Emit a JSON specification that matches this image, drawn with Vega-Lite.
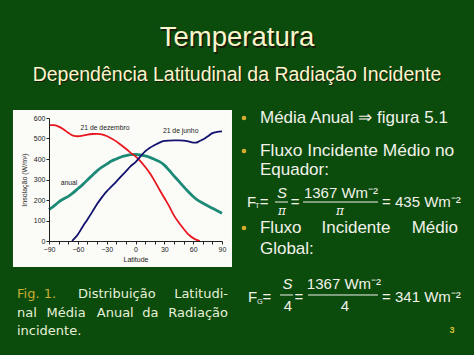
{
  "$schema": "https://vega.github.io/schema/vega-lite/v6.json",
  "width": 173,
  "height": 123,
  "autosize": "none",
  "padding": {"left": 49, "top": 118, "right": 252, "bottom": 114},
  "background": "#0b4b0c",
  "config": {
    "view": {"stroke": null},
    "axis": {
      "zindex": 2,
      "grid": false,
      "domainColor": "#222222",
      "tickColor": "#222222",
      "labelFont": "Liberation Sans",
      "labelFontSize": 7,
      "labelColor": "#222222",
      "titleFont": "Liberation Sans",
      "titleFontSize": 7,
      "titleFontWeight": "normal",
      "titleColor": "#222222"
    }
  },
  "datasets": {
    "insolation": [
      {"lat": -90, "serie": "21 de dezembro", "ins": 565},
      {"lat": -85, "serie": "21 de dezembro", "ins": 565},
      {"lat": -80, "serie": "21 de dezembro", "ins": 558},
      {"lat": -75, "serie": "21 de dezembro", "ins": 545},
      {"lat": -70, "serie": "21 de dezembro", "ins": 528},
      {"lat": -65, "serie": "21 de dezembro", "ins": 514},
      {"lat": -60, "serie": "21 de dezembro", "ins": 511},
      {"lat": -55, "serie": "21 de dezembro", "ins": 514},
      {"lat": -50, "serie": "21 de dezembro", "ins": 519},
      {"lat": -45, "serie": "21 de dezembro", "ins": 522},
      {"lat": -40, "serie": "21 de dezembro", "ins": 523},
      {"lat": -35, "serie": "21 de dezembro", "ins": 520},
      {"lat": -30, "serie": "21 de dezembro", "ins": 512},
      {"lat": -25, "serie": "21 de dezembro", "ins": 500},
      {"lat": -20, "serie": "21 de dezembro", "ins": 486},
      {"lat": -15, "serie": "21 de dezembro", "ins": 468},
      {"lat": -10, "serie": "21 de dezembro", "ins": 450},
      {"lat": -5, "serie": "21 de dezembro", "ins": 430},
      {"lat": 0, "serie": "21 de dezembro", "ins": 413},
      {"lat": 5, "serie": "21 de dezembro", "ins": 390},
      {"lat": 10, "serie": "21 de dezembro", "ins": 362},
      {"lat": 15, "serie": "21 de dezembro", "ins": 330},
      {"lat": 20, "serie": "21 de dezembro", "ins": 292},
      {"lat": 25, "serie": "21 de dezembro", "ins": 250},
      {"lat": 30, "serie": "21 de dezembro", "ins": 210},
      {"lat": 35, "serie": "21 de dezembro", "ins": 170},
      {"lat": 40, "serie": "21 de dezembro", "ins": 125},
      {"lat": 45, "serie": "21 de dezembro", "ins": 90},
      {"lat": 50, "serie": "21 de dezembro", "ins": 60},
      {"lat": 55, "serie": "21 de dezembro", "ins": 32},
      {"lat": 60, "serie": "21 de dezembro", "ins": 14},
      {"lat": 65, "serie": "21 de dezembro", "ins": 3},
      {"lat": 67, "serie": "21 de dezembro", "ins": 0},
      {"lat": -66, "serie": "21 de junho", "ins": 0},
      {"lat": -62, "serie": "21 de junho", "ins": 20},
      {"lat": -60, "serie": "21 de junho", "ins": 32},
      {"lat": -55, "serie": "21 de junho", "ins": 70},
      {"lat": -50, "serie": "21 de junho", "ins": 105},
      {"lat": -45, "serie": "21 de junho", "ins": 142},
      {"lat": -40, "serie": "21 de junho", "ins": 180},
      {"lat": -35, "serie": "21 de junho", "ins": 213},
      {"lat": -30, "serie": "21 de junho", "ins": 242},
      {"lat": -25, "serie": "21 de junho", "ins": 266},
      {"lat": -20, "serie": "21 de junho", "ins": 290},
      {"lat": -15, "serie": "21 de junho", "ins": 315},
      {"lat": -10, "serie": "21 de junho", "ins": 340},
      {"lat": -5, "serie": "21 de junho", "ins": 365},
      {"lat": 0, "serie": "21 de junho", "ins": 385},
      {"lat": 5, "serie": "21 de junho", "ins": 412},
      {"lat": 10, "serie": "21 de junho", "ins": 437},
      {"lat": 15, "serie": "21 de junho", "ins": 455},
      {"lat": 20, "serie": "21 de junho", "ins": 468},
      {"lat": 25, "serie": "21 de junho", "ins": 480},
      {"lat": 30, "serie": "21 de junho", "ins": 488},
      {"lat": 35, "serie": "21 de junho", "ins": 490},
      {"lat": 40, "serie": "21 de junho", "ins": 491},
      {"lat": 45, "serie": "21 de junho", "ins": 491},
      {"lat": 50, "serie": "21 de junho", "ins": 490},
      {"lat": 55, "serie": "21 de junho", "ins": 486},
      {"lat": 60, "serie": "21 de junho", "ins": 480},
      {"lat": 63, "serie": "21 de junho", "ins": 480},
      {"lat": 66, "serie": "21 de junho", "ins": 486},
      {"lat": 70, "serie": "21 de junho", "ins": 495},
      {"lat": 75, "serie": "21 de junho", "ins": 510},
      {"lat": 80, "serie": "21 de junho", "ins": 526},
      {"lat": 85, "serie": "21 de junho", "ins": 532},
      {"lat": 90, "serie": "21 de junho", "ins": 535},
      {"lat": -90, "serie": "anual", "ins": 153},
      {"lat": -85, "serie": "anual", "ins": 170},
      {"lat": -80, "serie": "anual", "ins": 190},
      {"lat": -75, "serie": "anual", "ins": 205},
      {"lat": -70, "serie": "anual", "ins": 218},
      {"lat": -65, "serie": "anual", "ins": 235},
      {"lat": -60, "serie": "anual", "ins": 255},
      {"lat": -55, "serie": "anual", "ins": 275},
      {"lat": -50, "serie": "anual", "ins": 298},
      {"lat": -45, "serie": "anual", "ins": 320},
      {"lat": -40, "serie": "anual", "ins": 342},
      {"lat": -35, "serie": "anual", "ins": 360},
      {"lat": -30, "serie": "anual", "ins": 375},
      {"lat": -25, "serie": "anual", "ins": 390},
      {"lat": -20, "serie": "anual", "ins": 400},
      {"lat": -15, "serie": "anual", "ins": 410},
      {"lat": -10, "serie": "anual", "ins": 416},
      {"lat": -5, "serie": "anual", "ins": 421},
      {"lat": 0, "serie": "anual", "ins": 422},
      {"lat": 5, "serie": "anual", "ins": 420},
      {"lat": 10, "serie": "anual", "ins": 415},
      {"lat": 15, "serie": "anual", "ins": 408},
      {"lat": 20, "serie": "anual", "ins": 398},
      {"lat": 25, "serie": "anual", "ins": 387},
      {"lat": 30, "serie": "anual", "ins": 370},
      {"lat": 35, "serie": "anual", "ins": 345},
      {"lat": 40, "serie": "anual", "ins": 318},
      {"lat": 45, "serie": "anual", "ins": 292},
      {"lat": 50, "serie": "anual", "ins": 265},
      {"lat": 55, "serie": "anual", "ins": 240},
      {"lat": 60, "serie": "anual", "ins": 217},
      {"lat": 65, "serie": "anual", "ins": 198},
      {"lat": 70, "serie": "anual", "ins": 185},
      {"lat": 75, "serie": "anual", "ins": 172},
      {"lat": 80, "serie": "anual", "ins": 160},
      {"lat": 85, "serie": "anual", "ins": 148},
      {"lat": 90, "serie": "anual", "ins": 135}
    ]
  },
  "data": {"values": [{}]},
  "layer": [
    {
      "mark": {"type": "rect", "fill": "#fbfbf8"},
      "encoding": {
        "x": {"datum": -127.5, "type": "quantitative", "scale": {"domain": [-90, 90], "nice": false, "zero": false},
          "axis": {"title": "Latitude", "zindex": 2, "tickCount": 40, "values": [-90, -80, -70, -60, -50, -40, -30, -20, -10, 0, 10, 20, 30, 40, 50, 60, 70, 80, 90],
            "labelExpr": "datum.value % 30 == 0 ? datum.label : ''", "tickSize": 3, "labelPadding": 1, "titlePadding": 3, "labelFlush": false, "labelOverlap": false}},
        "x2": {"datum": 100.4},
        "y": {"datum": 639, "type": "quantitative", "scale": {"domain": [0, 600], "nice": false, "zero": false},
          "axis": {"title": "Insolação (W/m²)", "zindex": 2, "tickCount": 20, "values": [0, 100, 200, 300, 400, 500, 600], "tickSize": 3, "labelPadding": 1, "titlePadding": 6, "labelOverlap": false}},
        "y2": {"datum": -126.8}
      }
    },
    {
      "data": {"name": "insolation"},
      "transform": [{"filter": "datum.serie == 'anual'"}],
      "mark": {"type": "line", "strokeWidth": 2.8, "interpolate": "monotone"},
      "encoding": {
        "x": {"field": "lat", "type": "quantitative", "title": "Latitude"},
        "y": {"field": "ins", "type": "quantitative", "title": "Insolação (W/m²)"},
        "color": {"field": "serie", "type": "nominal", "scale": {"domain": ["21 de dezembro", "21 de junho", "anual"], "range": ["#e8171f", "#12126e", "#1d8a78"]}, "legend": null}
      }
    },
    {
      "data": {"name": "insolation"},
      "transform": [{"filter": "datum.serie != 'anual'"}],
      "mark": {"type": "line", "strokeWidth": 1.8, "interpolate": "monotone"},
      "encoding": {
        "x": {"field": "lat", "type": "quantitative", "title": "Latitude"},
        "y": {"field": "ins", "type": "quantitative", "title": "Insolação (W/m²)"},
        "color": {"field": "serie", "type": "nominal", "legend": null},
        "detail": {"field": "serie"}
      }
    },
    {"mark": {"type": "text", "text": "21 de dezembro", "font": "Liberation Sans", "fontSize": 6.8, "color": "#222222", "align": "center", "baseline": "middle"},
     "encoding": {"x": {"datum": -31.7}, "y": {"datum": 551.2}}},
    {"mark": {"type": "text", "text": "21 de junho", "font": "Liberation Sans", "fontSize": 6.8, "color": "#222222", "align": "center", "baseline": "middle"},
     "encoding": {"x": {"datum": 47.0}, "y": {"datum": 536.6}}},
    {"mark": {"type": "text", "text": "anual", "font": "Liberation Sans", "fontSize": 6.8, "color": "#222222", "align": "center", "baseline": "middle"},
     "encoding": {"x": {"datum": -69.2}, "y": {"datum": 282.9}}},

    {"mark": {"type": "text", "text": "Temperatura", "font": "Liberation Sans", "fontSize": 27.5, "color": "#1a1a0a", "align": "center", "baseline": "alphabetic", "dx": 1.5, "dy": 1.5},
     "encoding": {"x": {"datum": 105.6}, "y": {"datum": 951.2}}},
    {"mark": {"type": "text", "text": "Temperatura", "font": "Liberation Sans", "fontSize": 27.5, "color": "#fbf6cc", "align": "center", "baseline": "alphabetic"},
     "encoding": {"x": {"datum": 105.6}, "y": {"datum": 951.2}}},
    {"mark": {"type": "text", "text": "Dependência Latitudinal da Radiação Incidente", "font": "Liberation Sans", "fontSize": 19.5, "color": "#1a1a0a", "align": "center", "baseline": "alphabetic", "dx": 1, "dy": 1},
     "encoding": {"x": {"datum": 105.6}, "y": {"datum": 780.5}}},
    {"mark": {"type": "text", "text": "Dependência Latitudinal da Radiação Incidente", "font": "Liberation Sans", "fontSize": 19.5, "color": "#fbf6cc", "align": "center", "baseline": "alphabetic"},
     "encoding": {"x": {"datum": 105.6}, "y": {"datum": 780.5}}},

    {"mark": {"type": "point", "shape": "circle", "filled": true, "size": 22, "color": "#d6ac2e", "opacity": 1},
     "encoding": {"x": {"datum": 112.9}, "y": {"datum": 600}}},
    {"mark": {"type": "point", "shape": "circle", "filled": true, "size": 22, "color": "#d6ac2e", "opacity": 1},
     "encoding": {"x": {"datum": 112.9}, "y": {"datum": 439}}},
    {"mark": {"type": "point", "shape": "circle", "filled": true, "size": 22, "color": "#d6ac2e", "opacity": 1},
     "encoding": {"x": {"datum": 112.9}, "y": {"datum": 63.4}}},

    {"mark": {"type": "text", "text": "Média Anual ⇒ figura 5.1", "font": "Liberation Sans", "fontSize": 17, "color": "#f2f2ea", "align": "left", "baseline": "alphabetic"},
     "encoding": {"x": {"datum": 129.5}, "y": {"datum": 575.6}}},
    {"mark": {"type": "text", "text": "Fluxo Incidente Médio no", "font": "Liberation Sans", "fontSize": 17.4, "color": "#f2f2ea", "align": "left", "baseline": "alphabetic"},
     "encoding": {"x": {"datum": 129.5}, "y": {"datum": 414.6}}},
    {"mark": {"type": "text", "text": "Equador:", "font": "Liberation Sans", "fontSize": 17, "color": "#f2f2ea", "align": "left", "baseline": "alphabetic"},
     "encoding": {"x": {"datum": 129.5}, "y": {"datum": 322}}},
    {"mark": {"type": "text", "text": "Fluxo", "font": "Liberation Sans", "fontSize": 17, "color": "#f2f2ea", "align": "left", "baseline": "alphabetic"},
     "encoding": {"x": {"datum": 129.5}, "y": {"datum": 39}}},
    {"mark": {"type": "text", "text": "Incidente", "font": "Liberation Sans", "fontSize": 17, "color": "#f2f2ea", "align": "center", "baseline": "alphabetic"},
     "encoding": {"x": {"datum": 229.4}, "y": {"datum": 39}}},
    {"mark": {"type": "text", "text": "Médio", "font": "Liberation Sans", "fontSize": 17, "color": "#f2f2ea", "align": "right", "baseline": "alphabetic"},
     "encoding": {"x": {"datum": 335.5}, "y": {"datum": 39}}},
    {"mark": {"type": "text", "text": "Global:", "font": "Liberation Sans", "fontSize": 17, "color": "#f2f2ea", "align": "left", "baseline": "alphabetic"},
     "encoding": {"x": {"datum": 129.5}, "y": {"datum": -63.4}}},

    {"mark": {"type": "text", "text": "F", "font": "Liberation Sans", "fontSize": 15, "color": "#f2f2ea", "align": "left", "baseline": "alphabetic"},
     "encoding": {"x": {"datum": 116.0}, "y": {"datum": 165.9}}},
    {"mark": {"type": "text", "text": "T", "font": "Liberation Sans", "fontSize": 7.5, "color": "#f2f2ea", "align": "left", "baseline": "alphabetic"},
     "encoding": {"x": {"datum": 124.3}, "y": {"datum": 161.0}}},
    {"mark": {"type": "text", "text": "=", "font": "Liberation Sans", "fontSize": 15, "color": "#f2f2ea", "align": "center", "baseline": "alphabetic"},
     "encoding": {"x": {"datum": 133.7}, "y": {"datum": 165.9}}},
    {"mark": {"type": "text", "text": "S", "font": "Liberation Sans", "fontStyle": "italic", "fontSize": 15, "color": "#f2f2ea", "align": "center", "baseline": "alphabetic"},
     "encoding": {"x": {"datum": 152.4}, "y": {"datum": 209.8}}},
    {"mark": {"type": "rule", "color": "#f2f2ea", "strokeWidth": 1},
     "encoding": {"x": {"datum": 145.1}, "x2": {"datum": 158.7}, "y": {"datum": 190.2}}},
    {"mark": {"type": "text", "text": "π", "font": "DejaVu Serif", "fontStyle": "italic", "fontSize": 12, "color": "#f2f2ea", "align": "center", "baseline": "alphabetic"},
     "encoding": {"x": {"datum": 152.4}, "y": {"datum": 126.8}}},
    {"mark": {"type": "text", "text": "=", "font": "Liberation Sans", "fontSize": 15, "color": "#f2f2ea", "align": "center", "baseline": "alphabetic"},
     "encoding": {"x": {"datum": 166.0}, "y": {"datum": 165.9}}},
    {"mark": {"type": "text", "text": "1367 Wm⁻²", "font": "Liberation Sans", "fontSize": 15, "color": "#f2f2ea", "align": "center", "baseline": "alphabetic"},
     "encoding": {"x": {"datum": 213.8}, "y": {"datum": 209.8}}},
    {"mark": {"type": "rule", "color": "#f2f2ea", "strokeWidth": 1},
     "encoding": {"x": {"datum": 174.3}, "x2": {"datum": 252.3}, "y": {"datum": 190.2}}},
    {"mark": {"type": "text", "text": "π", "font": "DejaVu Serif", "fontStyle": "italic", "fontSize": 12, "color": "#f2f2ea", "align": "center", "baseline": "alphabetic"},
     "encoding": {"x": {"datum": 212.8}, "y": {"datum": 126.8}}},
    {"mark": {"type": "text", "text": "= 435 Wm⁻²", "font": "Liberation Sans", "fontSize": 15, "color": "#f2f2ea", "align": "left", "baseline": "alphabetic"},
     "encoding": {"x": {"datum": 256.5}, "y": {"datum": 165.9}}},

    {"mark": {"type": "text", "text": "F", "font": "Liberation Sans", "fontSize": 15, "color": "#f2f2ea", "align": "left", "baseline": "alphabetic"},
     "encoding": {"x": {"datum": 117.1}, "y": {"datum": -297.6}}},
    {"mark": {"type": "text", "text": "G", "font": "Liberation Sans", "fontSize": 7.5, "color": "#f2f2ea", "align": "left", "baseline": "alphabetic"},
     "encoding": {"x": {"datum": 126.4}, "y": {"datum": -307.3}}},
    {"mark": {"type": "text", "text": "=", "font": "Liberation Sans", "fontSize": 15, "color": "#f2f2ea", "align": "center", "baseline": "alphabetic"},
     "encoding": {"x": {"datum": 136.8}, "y": {"datum": -297.6}}},
    {"mark": {"type": "text", "text": "S", "font": "Liberation Sans", "fontStyle": "italic", "fontSize": 15, "color": "#f2f2ea", "align": "center", "baseline": "alphabetic"},
     "encoding": {"x": {"datum": 158.2}, "y": {"datum": -234.1}}},
    {"mark": {"type": "rule", "color": "#f2f2ea", "strokeWidth": 1},
     "encoding": {"x": {"datum": 150.3}, "x2": {"datum": 163.9}, "y": {"datum": -263.4}}},
    {"mark": {"type": "text", "text": "4", "font": "Liberation Sans", "fontSize": 15, "color": "#f2f2ea", "align": "center", "baseline": "alphabetic"},
     "encoding": {"x": {"datum": 158.7}, "y": {"datum": -341.5}}},
    {"mark": {"type": "text", "text": "=", "font": "Liberation Sans", "fontSize": 15, "color": "#f2f2ea", "align": "center", "baseline": "alphabetic"},
     "encoding": {"x": {"datum": 170.1}, "y": {"datum": -297.6}}},
    {"mark": {"type": "text", "text": "1367 Wm⁻²", "font": "Liberation Sans", "fontSize": 15, "color": "#f2f2ea", "align": "center", "baseline": "alphabetic"},
     "encoding": {"x": {"datum": 216.9}, "y": {"datum": -234.1}}},
    {"mark": {"type": "rule", "color": "#f2f2ea", "strokeWidth": 1},
     "encoding": {"x": {"datum": 179.5}, "x2": {"datum": 252.3}, "y": {"datum": -263.4}}},
    {"mark": {"type": "text", "text": "4", "font": "Liberation Sans", "fontSize": 15, "color": "#f2f2ea", "align": "center", "baseline": "alphabetic"},
     "encoding": {"x": {"datum": 218.0}, "y": {"datum": -341.5}}},
    {"mark": {"type": "text", "text": "= 341 Wm⁻²", "font": "Liberation Sans", "fontSize": 15, "color": "#f2f2ea", "align": "left", "baseline": "alphabetic"},
     "encoding": {"x": {"datum": 256.5}, "y": {"datum": -297.6}}},

    {"mark": {"type": "text", "text": "Fig.  1.", "font": "DejaVu Sans", "fontSize": 13, "color": "#c9ab35", "align": "left", "baseline": "alphabetic"},
     "encoding": {"x": {"datum": -123.3}, "y": {"datum": -278.0}}},
    {"mark": {"type": "text", "text": "Distribuição", "font": "DejaVu Sans", "fontSize": 13, "color": "#e6f0d8", "align": "left", "baseline": "alphabetic"},
     "encoding": {"x": {"datum": -59.8}, "y": {"datum": -278.0}}},
    {"mark": {"type": "text", "text": "Latitudi-", "font": "DejaVu Sans", "fontSize": 13, "color": "#e6f0d8", "align": "right", "baseline": "alphabetic"},
     "encoding": {"x": {"datum": 96.2}, "y": {"datum": -278.0}}},
    {"mark": {"type": "text", "text": "nal", "font": "DejaVu Sans", "fontSize": 13, "color": "#e6f0d8", "align": "left", "baseline": "alphabetic"},
     "encoding": {"x": {"datum": -123.3}, "y": {"datum": -370.7}}},
    {"mark": {"type": "text", "text": "Média", "font": "DejaVu Sans", "fontSize": 13, "color": "#e6f0d8", "align": "left", "baseline": "alphabetic"},
     "encoding": {"x": {"datum": -92.5}, "y": {"datum": -370.7}}},
    {"mark": {"type": "text", "text": "Anual", "font": "DejaVu Sans", "fontSize": 13, "color": "#e6f0d8", "align": "left", "baseline": "alphabetic"},
     "encoding": {"x": {"datum": -40.3}, "y": {"datum": -370.7}}},
    {"mark": {"type": "text", "text": "da", "font": "DejaVu Sans", "fontSize": 13, "color": "#e6f0d8", "align": "left", "baseline": "alphabetic"},
     "encoding": {"x": {"datum": 7.0}, "y": {"datum": -370.7}}},
    {"mark": {"type": "text", "text": "Radiação", "font": "DejaVu Sans", "fontSize": 13, "color": "#e6f0d8", "align": "right", "baseline": "alphabetic"},
     "encoding": {"x": {"datum": 96.2}, "y": {"datum": -370.7}}},
    {"mark": {"type": "text", "text": "incidente.", "font": "DejaVu Sans", "fontSize": 13, "color": "#e6f0d8", "align": "left", "baseline": "alphabetic"},
     "encoding": {"x": {"datum": -123.3}, "y": {"datum": -458.5}}},
    {"mark": {"type": "text", "text": "3", "font": "Liberation Sans", "fontWeight": "bold", "fontSize": 9, "color": "#d8c232", "align": "center", "baseline": "alphabetic"},
     "encoding": {"x": {"datum": 329.3}, "y": {"datum": -448.8}}}
  ]
}
